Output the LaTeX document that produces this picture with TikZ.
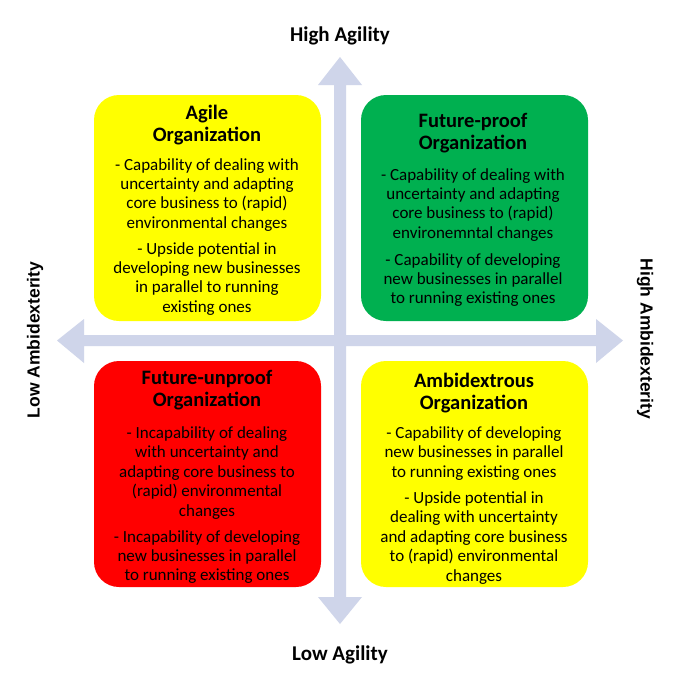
\documentclass[tikz,border=0pt]{standalone}
\usepackage{fontspec}
\setmainfont{Carlito}
\newfontfamily\arialfont{Liberation Sans}
\definecolor{arrowc}{RGB}{207,213,234}
\definecolor{yel}{RGB}{255,255,0}
\definecolor{grn}{RGB}{0,176,80}
\definecolor{redc}{RGB}{255,0,0}
\begin{document}
\begin{tikzpicture}[x=1pt,y=-1pt,
  quad/.style={rounded corners=25pt, draw=none, minimum width=227pt, minimum height=226pt, inner sep=0pt},
  ttl/.style={font=\fontsize{20.5}{21.8}\selectfont\bfseries, align=center, inner sep=0pt, anchor=north},
  bod/.style={font=\fontsize{17}{19.4}\selectfont, align=center, inner sep=0pt, anchor=north},
  axislbl/.style={font=\fontsize{21}{24}\selectfont\bfseries, inner sep=0pt, anchor=base},
  side/.style={font=\arialfont\bfseries\fontsize{17.5}{20}\selectfont, inner sep=0pt}]
\useasboundingbox (0,0) rectangle (679,686);
\fill[white] (0,0) rectangle (679,686);
% cross arrows
\fill[arrowc] (57,340.5) -- (84,319) -- (84,335) -- (334,335) -- (334,85) -- (318,85) -- (340,57) -- (362,85) -- (346,85) -- (346,335) -- (596,335) -- (596,319) -- (623,340.5) -- (596,363) -- (596,346) -- (346,346) -- (346,597) -- (362,597) -- (340,624) -- (318,597) -- (334,597) -- (334,346) -- (84,346) -- (84,363) -- cycle;
% boxes
\node[quad, fill=yel] (agile) at (207.5,208) {};
\node[quad, fill=grn] (proof) at (474.5,208) {};
\node[quad, fill=redc] (unproof) at (207.5,474) {};
\node[quad, fill=yel] (ambi) at (474.5,474) {};
% agile
\node[ttl] (agileT) at (207,105) {Agile\\Organization};
\node[bod] (agileA) at (207,158) {- Capability of dealing with\\uncertainty and adapting\\core business to (rapid)\\environmental changes};
\node[bod] (agileB) at (207,242) {- Upside potential in\\developing new businesses\\in parallel to running\\existing ones};
% future-proof
\node[ttl] (proofT) at (473,113) {Future-proof\\Organization};
\node[bod] (proofA) at (473,168) {- Capability of dealing with\\uncertainty and adapting\\core business to (rapid)\\environemntal changes};
\node[bod] (proofB) at (473,253) {- Capability of developing\\new businesses in parallel\\to running existing ones};
% future-unproof
\node[ttl] (unproofT) at (207,370) {Future-unproof\\Organization};
\node[bod] (unproofA) at (207,426.5) {- Incapability of dealing\\with uncertainty and\\adapting core business to\\(rapid) environmental\\changes};
\node[bod] (unproofB) at (207,530) {- Incapability of developing\\new businesses in parallel\\to running existing ones};
% ambidextrous
\node[ttl] (ambiT) at (474,373) {Ambidextrous\\Organization};
\node[bod] (ambiA) at (474,426.5) {- Capability of developing\\new businesses in parallel\\to running existing ones};
\node[bod] (ambiB) at (474,491.5) {- Upside potential in\\dealing with uncertainty\\and adapting core business\\to (rapid) environmental\\changes};
% axis labels
\node[axislbl] (hiag) at (340,41) {High Agility};
\node[axislbl] (loag) at (340,660) {Low Agility};
\node[side, rotate=90] (loamb) at (35,340) {Low Ambidexterity};
\node[side, rotate=-90] (hiamb) at (645,339) {High Ambidexterity};
\end{tikzpicture}
\end{document}
